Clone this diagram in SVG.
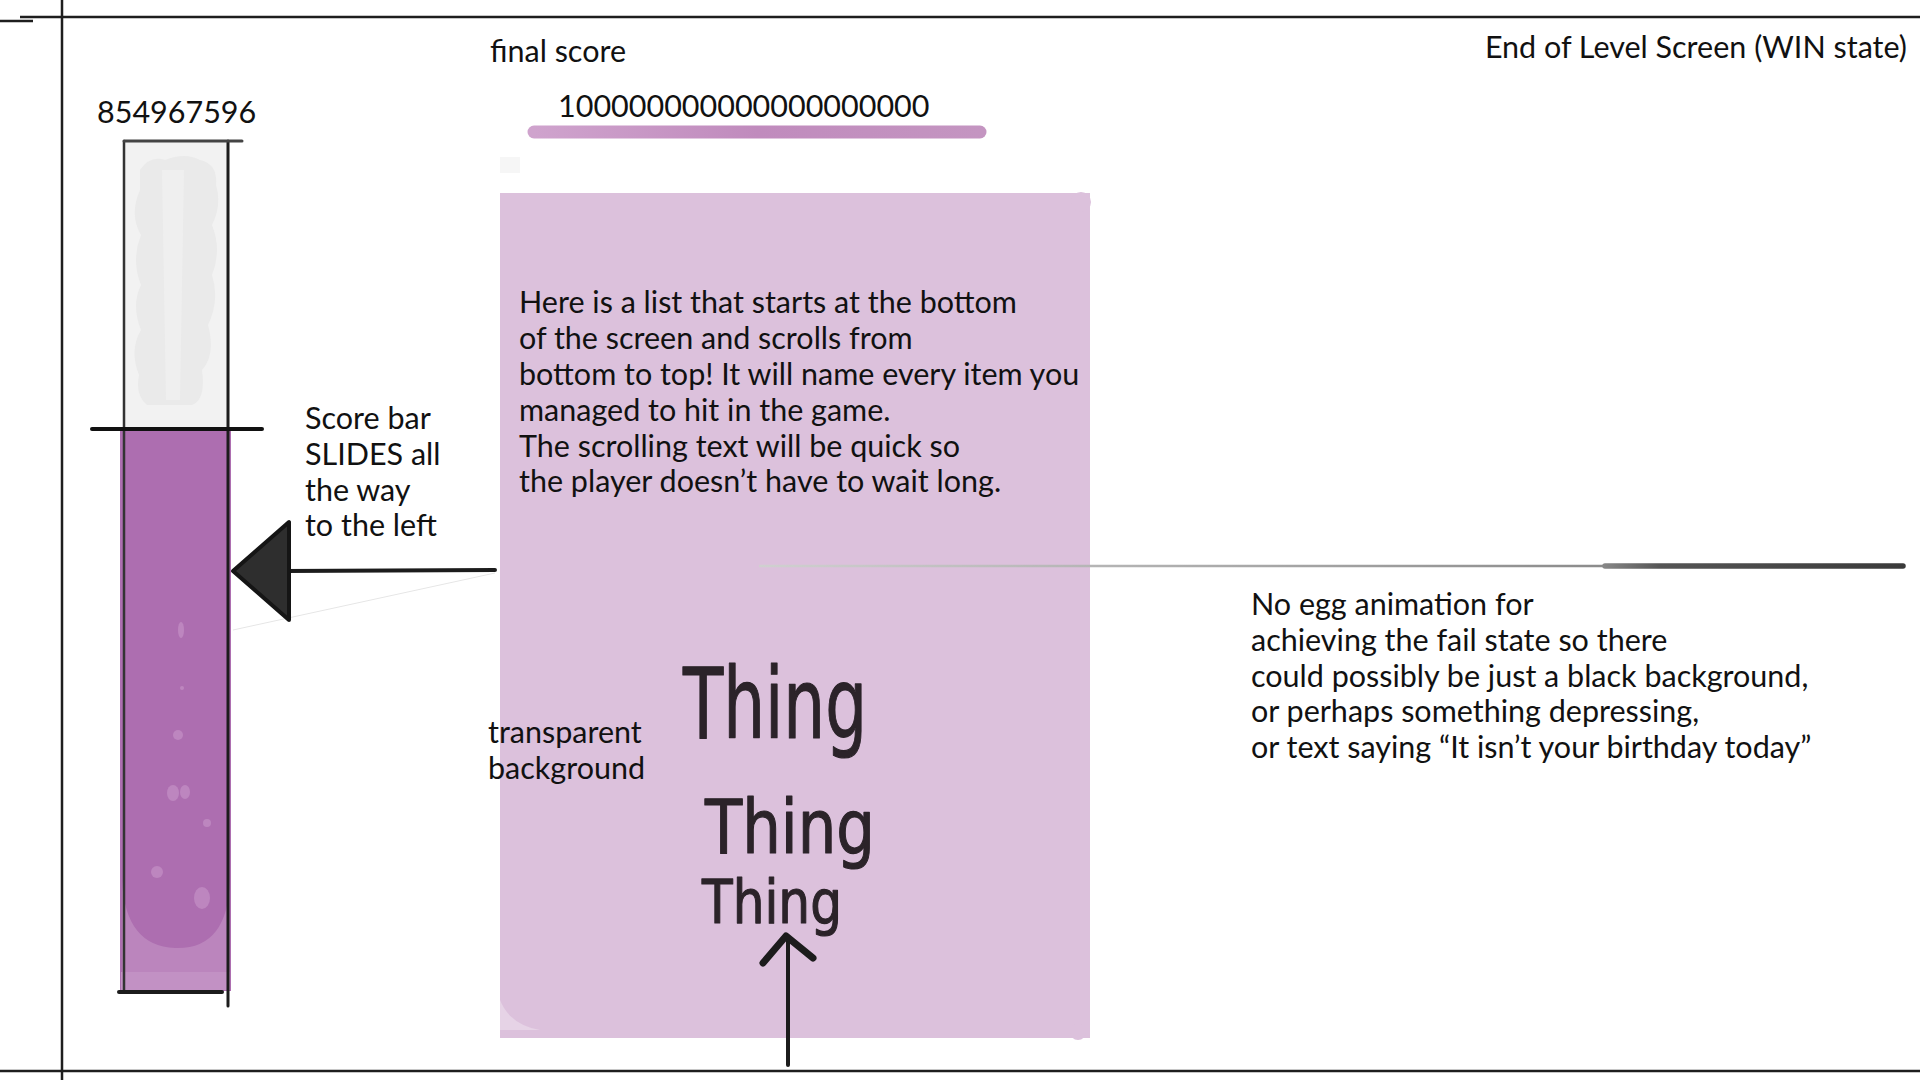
<svg xmlns="http://www.w3.org/2000/svg" width="1920" height="1080" viewBox="0 0 1920 1080">
<style>
.t{font-family:Lato,"Noto Sans","Liberation Sans",sans-serif;font-size:30.5px;fill:#111}
.hw{font-family:"DejaVu Sans",sans-serif;font-weight:normal;fill:#2b2329;stroke:#2b2329;stroke-width:1.2;stroke-linejoin:round}
.frame{stroke:#1e1e1e;stroke-width:2.5;fill:none}
.ink{stroke:#1c1c1c;fill:none;stroke-linecap:round}
</style>
<defs>
<linearGradient id="ul" x1="534" x2="980" y1="0" y2="0" gradientUnits="userSpaceOnUse">
<stop offset="0" stop-color="#cfa3cd"/><stop offset="0.5" stop-color="#c08bbd"/><stop offset="1" stop-color="#c495c1"/>
</linearGradient>
<linearGradient id="thin" x1="759" x2="1620" y1="0" y2="0" gradientUnits="userSpaceOnUse">
<stop offset="0" stop-color="#d0d0d0"/><stop offset="1" stop-color="#8a8a8a"/>
</linearGradient>
<linearGradient id="thick" x1="1600" x2="1905" y1="0" y2="0" gradientUnits="userSpaceOnUse">
<stop offset="0" stop-color="#8a8a8a"/><stop offset="0.2" stop-color="#555"/><stop offset="1" stop-color="#3a3a3a"/>
</linearGradient>
</defs>

<rect width="1920" height="1080" fill="#fff"/>

<g id="frame">
<line class="frame" x1="20" y1="17" x2="1920" y2="17"/>
<line class="frame" x1="0" y1="21" x2="33" y2="21"/>
<line class="frame" x1="62" y1="0" x2="62" y2="1080"/>
<line class="frame" x1="0" y1="1071" x2="1920" y2="1071"/>
</g>

<g id="title"><text class="t" x="1907" y="58" text-anchor="end">End of Level Screen (WIN state)</text></g>

<g id="score-bar">
<text class="t" x="97" y="123">854967596</text>
<rect x="124" y="141" width="104" height="288" fill="#f2f2f2"/>
<path d="M140 170 q10 -15 25 -10 q20 -8 35 0 q18 4 16 25 q6 20 -4 40 q10 25 0 50 q8 25 -4 50 q8 30 -6 45 q4 30 -10 35 l-45 0 q-12 -10 -8 -30 q-10 -25 2 -45 q-10 -25 0 -45 q-10 -25 0 -50 q-12 -20 -1 -45 z" fill="#eaeaea"/>
<path d="M162 170 l22 0 l-4 230 l-14 0 z" fill="#efefef"/>
<rect x="120" y="429" width="111" height="562" fill="#ad6eb0"/>
<path d="M122 880 l0 110 l108 0 l0 -110 q-2 70 -55 68 q-50 -2 -53 -68 z" fill="#bb85bd"/>
<rect x="121" y="972" width="109" height="18" fill="#c291c4"/>
<g fill="#bd86bf">
<ellipse cx="173" cy="793" rx="6" ry="8"/>
<ellipse cx="185" cy="792" rx="5" ry="7"/>
<circle cx="207" cy="823" r="4"/>
<circle cx="157" cy="872" r="6"/>
<ellipse cx="202" cy="898" rx="8" ry="11"/>
<ellipse cx="181" cy="630" rx="3" ry="8"/>
<circle cx="178" cy="735" r="5"/>
<circle cx="182" cy="688" r="2"/>
</g>
<g class="ink">
<line x1="124" y1="141" x2="124" y2="990" stroke-width="2.5" stroke="#333"/>
<line x1="228" y1="141" x2="228" y2="1006" stroke-width="3"/>
<line x1="124" y1="141" x2="242" y2="141" stroke-width="3" stroke="#444"/>
<line x1="92" y1="429" x2="262" y2="429" stroke-width="4" stroke="#111"/>
<line x1="119" y1="992" x2="222" y2="992" stroke-width="4"/>
</g>
</g>

<g id="slide-label">
<text class="t" x="305" y="429">Score bar</text>
<text class="t" x="305" y="465">SLIDES all</text>
<text class="t" x="305" y="501">the way</text>
<text class="t" x="305" y="536">to the left</text>
</g>

<g id="final-score">
<text class="t" x="490" y="62">final score</text>
<text class="t" x="558" y="117">100000000000000000000</text>
<line x1="534" y1="132" x2="980" y2="132" stroke="url(#ul)" stroke-width="13" stroke-linecap="round"/>
</g>

<g id="list-panel">
<rect x="500" y="157" width="20" height="16" fill="#f6f6f6"/>
<rect x="500" y="193" width="590" height="845" fill="#dcc1dc"/>
<circle cx="1081" cy="202" r="10" fill="#dcc1dc"/>
<circle cx="1078" cy="1032" r="8" fill="#dcc1dc"/>
<path d="M500 1000 q10 25 40 30 l-40 0 z" fill="#e6d3e6"/>
<text class="t" x="519" y="313">Here is a list that starts at the bottom</text>
<text class="t" x="519" y="349">of the screen and scrolls from</text>
<text class="t" x="519" y="385">bottom to top! It will name every item you</text>
<text class="t" x="519" y="421">managed to hit in the game.</text>
<text class="t" x="519" y="457">The scrolling text will be quick so</text>
<text class="t" x="519" y="492">the player doesn’t have to wait long.</text>
<text class="hw" x="683" y="738" font-size="98" textLength="184" lengthAdjust="spacingAndGlyphs">Thing</text>
<text class="hw" x="705" y="853" font-size="74" textLength="170" lengthAdjust="spacingAndGlyphs">Thing</text>
<text class="hw" x="702" y="923" font-size="60" textLength="140" lengthAdjust="spacingAndGlyphs">Thing</text>
</g>

<g id="transparent-label">
<text class="t" x="488" y="743">transparent</text>
<text class="t" x="488" y="779">background</text>
</g>

<g id="fail-note">
<text class="t" x="1251" y="615">No egg animation for</text>
<text class="t" x="1251" y="651">achieving the fail state so there</text>
<text class="t" x="1251" y="687">could possibly be just a black background,</text>
<text class="t" x="1251" y="722">or perhaps something depressing,</text>
<text class="t" x="1251" y="758">or text saying “It isn’t your birthday today”</text>
</g>

<g id="connectors">
<line x1="233" y1="630" x2="495" y2="573" stroke="#e6e6e6" stroke-width="1"/>
<line class="ink" x1="495" y1="570" x2="285" y2="571" stroke-width="4"/>
<path d="M233 571 L289 522 L289 620 Z" fill="#2e2e2e" stroke="#151515" stroke-width="4" stroke-linejoin="round"/>
<line x1="759" y1="566" x2="1610" y2="566" stroke="url(#thin)" stroke-width="2.5"/>
<line x1="1605" y1="566" x2="1903" y2="566" stroke="url(#thick)" stroke-width="5.5" stroke-linecap="round"/>
<line class="ink" x1="788" y1="1065" x2="788" y2="940" stroke-width="4"/>
<polyline class="ink" points="763,963 786,936 813,958" stroke-width="7" stroke-linejoin="round"/>
</g>
</svg>
